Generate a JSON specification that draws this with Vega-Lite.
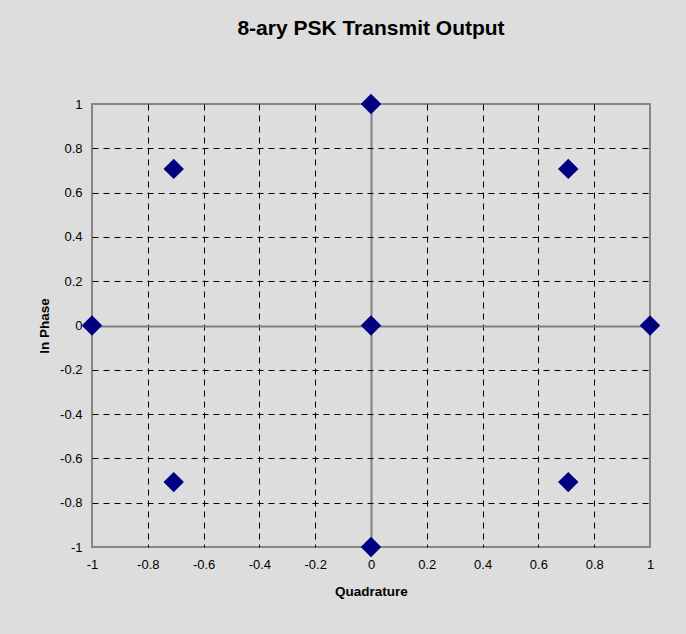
{
  "$schema": "https://vega.github.io/schema/vega-lite/v6.json",
  "autosize": "none",
  "width": 558,
  "height": 443,
  "padding": {"left": 92, "top": 104, "right": 36, "bottom": 87},
  "background": "#dddddd",
  "title": {
    "text": "8-ary PSK Transmit Output",
    "font": "Liberation Sans",
    "fontSize": 21,
    "fontWeight": "bold",
    "color": "#000000",
    "anchor": "middle",
    "offset": 55
  },
  "config": {
    "view": {"stroke": "#878787", "strokeWidth": 2, "fill": null},
    "axis": {
      "labelFont": "Liberation Sans",
      "labelFontSize": 13,
      "labelColor": "#000000",
      "labelFlush": false,
      "titleFont": "Liberation Sans",
      "titleFontSize": 13.5,
      "titleFontWeight": "bold",
      "titleColor": "#000000",
      "domain": false,
      "ticks": false
    }
  },
  "data": {
    "values": [
      {"q": 0, "i": 1},
      {"q": 0.7071, "i": 0.7071},
      {"q": 1, "i": 0},
      {"q": 0.7071, "i": -0.7071},
      {"q": 0, "i": -1},
      {"q": -0.7071, "i": -0.7071},
      {"q": -1, "i": 0},
      {"q": -0.7071, "i": 0.7071},
      {"q": 0, "i": 0}
    ]
  },
  "mark": {"type": "point", "shape": "diamond", "filled": true, "color": "#000080", "opacity": 1, "size": 420, "clip": false},
  "encoding": {
    "x": {
      "field": "q",
      "type": "quantitative",
      "scale": {"domain": [-1, 1], "nice": false, "zero": false},
      "axis": {
        "title": "Quadrature",
        "values": [-1, -0.8, -0.6, -0.4, -0.2, 0, 0.2, 0.4, 0.6, 0.8, 1],
        "labelExpr": "'' + datum.value",
        "labelPadding": 11,
        "titlePadding": 13,
        "grid": true,
        "gridColor": {"condition": {"test": "datum.value == 0", "value": "#808080"}, "value": "#000000"},
        "gridWidth": {"condition": {"test": "datum.value == 0", "value": 2}, "value": 1},
        "gridDash": {"condition": {"test": "datum.value == 0", "value": []}, "value": [6, 5]},
        "gridOpacity": {"condition": {"test": "abs(datum.value) == 1", "value": 0}, "value": 1}
      }
    },
    "y": {
      "field": "i",
      "type": "quantitative",
      "scale": {"domain": [-1, 1], "nice": false, "zero": false},
      "axis": {
        "title": "In Phase",
        "values": [-1, -0.8, -0.6, -0.4, -0.2, 0, 0.2, 0.4, 0.6, 0.8, 1],
        "labelExpr": "'' + datum.value",
        "labelPadding": 10,
        "titlePadding": 8,
        "grid": true,
        "gridColor": {"condition": {"test": "datum.value == 0", "value": "#808080"}, "value": "#000000"},
        "gridWidth": {"condition": {"test": "datum.value == 0", "value": 2}, "value": 1},
        "gridDash": {"condition": {"test": "datum.value == 0", "value": []}, "value": [6, 5]},
        "gridOpacity": {"condition": {"test": "abs(datum.value) == 1", "value": 0}, "value": 1}
      }
    }
  }
}
